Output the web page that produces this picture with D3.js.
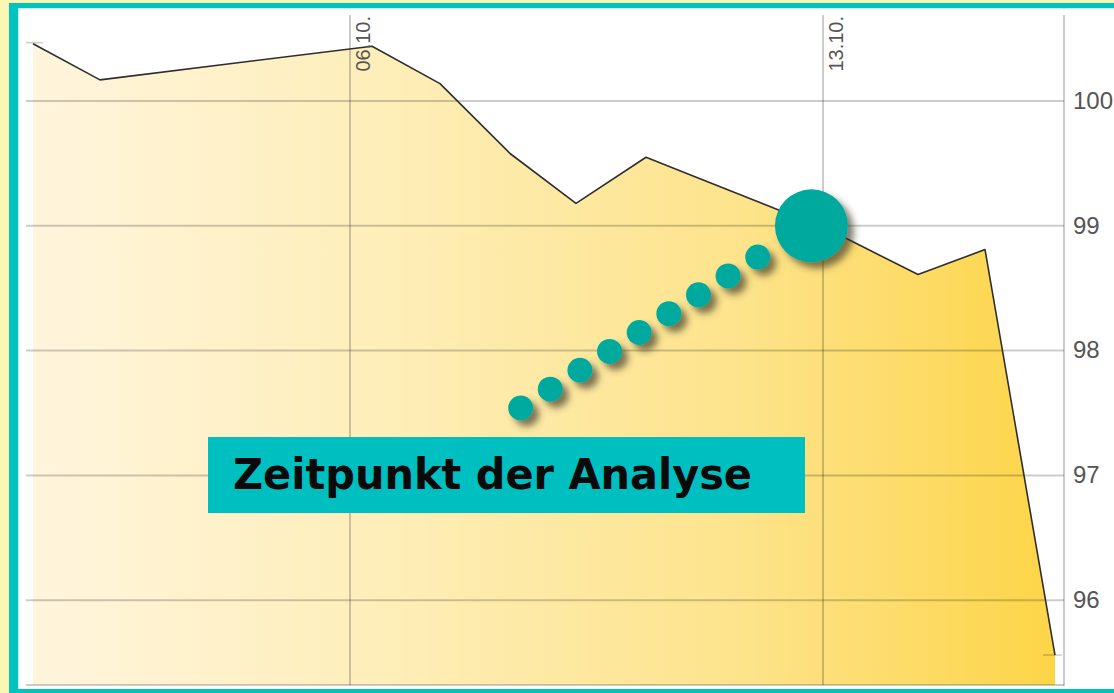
<!DOCTYPE html>
<html><head><meta charset="utf-8">
<script src="https://cdn.jsdelivr.net/npm/d3@7/dist/d3.min.js"></script>
<style>
html,body{margin:0;padding:0;background:#fff;}
svg{display:block;}
</style></head>
<body>
<script>
// ---- data ----
const dates = ["2014-10-01 07:25","2014-10-02 07:12","2014-10-06 07:49","2014-10-07 07:58","2014-10-08 08:50","2014-10-09 08:16","2014-10-10 09:08","2014-10-11 08:34","2014-10-12 08:01","2014-10-13 08:10","2014-10-14 09:45","2014-10-15 09:33","2014-10-16 10:24"];
const values = [100.46,100.17,100.44,100.14,99.58,99.18,99.55,99.34,99.13,98.90,98.61,98.81,95.56];
const yTicks = [96,97,98,99,100];
const xTickDates = ["2014-10-06 00:00","2014-10-13 00:00"];
const xTickLabels = ["06.10.","13.10."];
const domainX = ["2014-10-01 04:55","2014-10-16 13:36"];
const domainY = [95.32,100.69];
const annotationLabel = "Zeitpunkt der Analyse";
const markerPoint = {date:"2014-10-12 19:54", value:99.0};
const dotsStart = {date:"2014-10-08 12:37", value:97.54};
const dotsEnd = {date:"2014-10-12 00:49", value:98.75};
const dotCount = 9;

const W=1114,H=693;
const parse=d3.timeParse("%Y-%m-%d %H:%M");
const data=dates.map((d,i)=>({t:parse(d),v:values[i]}));

const svg=d3.select("body").append("svg").attr("width",W).attr("height",H);
const defs=svg.append("defs");
const grad=defs.append("linearGradient").attr("id","fillGrad").attr("x1","0").attr("x2","1").attr("y1","0").attr("y2","0");
grad.append("stop").attr("offset","0").attr("stop-color","#fff5dd");
grad.append("stop").attr("offset","0.35").attr("stop-color","#feeeb8");
grad.append("stop").attr("offset","0.7").attr("stop-color","#fde38a");
grad.append("stop").attr("offset","1").attr("stop-color","#fdd548");
const sh=defs.append("filter").attr("id","shadow").attr("x","-50%").attr("y","-50%").attr("width","200%").attr("height","200%");
sh.append("feDropShadow").attr("dx",6).attr("dy",6).attr("stdDeviation",3.5).attr("flood-color","#3a3520").attr("flood-opacity",0.65);

// frame
svg.append("rect").attr("x",0).attr("y",0).attr("width",W).attr("height",H).attr("fill","#fff");
svg.append("rect").attr("x",0).attr("y",0).attr("width",W).attr("height",3).attr("fill","#faf7b2");
svg.append("rect").attr("x",0).attr("y",0).attr("width",9).attr("height",H).attr("fill","#faf7b2");
svg.append("rect").attr("x",9).attr("y",3).attr("width",W-9).attr("height",5).attr("fill","#00c3c0");
svg.append("rect").attr("x",9).attr("y",3).attr("width",9).attr("height",H-3).attr("fill","#00c3c0");
svg.append("rect").attr("x",9).attr("y",689).attr("width",W-9).attr("height",4).attr("fill","#00c3c0");
svg.append("rect").attr("x",18).attr("y",8).attr("width",1).attr("height",681).attr("fill","#bff0ef");
svg.append("rect").attr("x",18).attr("y",8).attr("width",W-18).attr("height",1).attr("fill","#bff0ef");

const x=d3.scaleTime().domain(domainX.map(parse)).range([26,1064]);
const y=d3.scaleLinear().domain(domainY).range([685,15]);

// area
const area=d3.area().x(d=>x(d.t)).y0(y(domainY[0])).y1(d=>y(d.v));
svg.append("path").datum(data).attr("d",area).attr("fill","url(#fillGrad)");

// grid
const g=svg.append("g");
g.selectAll(".hg").data(yTicks).join("line")
 .attr("x1",26).attr("x2",1064).attr("y1",d=>y(d)).attr("y2",d=>y(d))
 .attr("stroke","#000").attr("stroke-opacity",0.2).attr("stroke-width",2);
g.selectAll(".vg").data(xTickDates).join("line")
 .attr("x1",d=>x(parse(d))).attr("x2",d=>x(parse(d))).attr("y1",15).attr("y2",685)
 .attr("stroke","#000").attr("stroke-opacity",0.2).attr("stroke-width",2);
g.append("line").attr("x1",26).attr("x2",1064).attr("y1",685).attr("y2",685).attr("stroke","#000").attr("stroke-opacity",0.2).attr("stroke-width",2);
g.append("line").attr("x1",1064).attr("x2",1064).attr("y1",15).attr("y2",686).attr("stroke","#000").attr("stroke-opacity",0.2).attr("stroke-width",2);

// start/end value ticks
const first=data[0], last=data[data.length-1];
svg.append("line").attr("x1",26).attr("x2",x(first.t)+10).attr("y1",y(first.v)-1).attr("y2",y(first.v)-1).attr("stroke","#000").attr("stroke-opacity",0.2).attr("stroke-width",1.5);
svg.append("line").attr("x1",x(last.t)-12).attr("x2",1062).attr("y1",y(last.v)).attr("y2",y(last.v)).attr("stroke","#000").attr("stroke-opacity",0.2).attr("stroke-width",1.5);

// line
const line=d3.line().x(d=>x(d.t)).y(d=>y(d.v));
svg.append("path").datum(data).attr("d",line).attr("fill","none").attr("stroke","#2e2e2e").attr("stroke-width",1.6).attr("stroke-linejoin","round");

// y axis labels
const yAxis=d3.axisRight(y).tickValues(yTicks).tickSize(0).tickPadding(9).tickFormat(d3.format("d"));
const ya=svg.append("g").attr("transform","translate(1064,0)").call(yAxis);
ya.select(".domain").remove();
ya.selectAll("text").attr("font-family","Liberation Sans, Arial, sans-serif").attr("font-size",24).attr("fill","#555").attr("dy","0.3em");

// x labels (rotated)
svg.selectAll(".xl").data(xTickDates).join("text")
 .attr("transform",d=>`translate(${x(parse(d))+20},16) rotate(-90)`)
 .attr("text-anchor","end")
 .attr("font-family","Liberation Sans, Arial, sans-serif").attr("font-size",20).attr("fill","#555")
 .text((d,i)=>xTickLabels[i]);

// annotation dots
const p0=[x(parse(dotsStart.date)),y(dotsStart.value)], p1=[x(parse(dotsEnd.date)),y(dotsEnd.value)];
const dots=d3.range(dotCount).map(i=>[p0[0]+(p1[0]-p0[0])*i/(dotCount-1), p0[1]+(p1[1]-p0[1])*i/(dotCount-1)]);
svg.append("g").attr("filter","url(#shadow)").selectAll("circle").data(dots).join("circle")
 .attr("cx",d=>d[0]).attr("cy",d=>d[1]).attr("r",12.5).attr("fill","#00a99d");
svg.append("circle").attr("cx",x(parse(markerPoint.date))).attr("cy",y(markerPoint.value)).attr("r",36.5)
 .attr("fill","#00a99d").attr("filter","url(#shadow)");

// label box
svg.append("rect").attr("x",208).attr("y",437).attr("width",597).attr("height",76).attr("fill","#00bfc0");
svg.append("text").attr("x",233).attr("y",489).attr("font-family","DejaVu Sans, sans-serif").attr("font-weight","bold")
 .attr("font-size",42).attr("fill","#0a0a0a").attr("textLength",519).attr("lengthAdjust","spacingAndGlyphs").text(annotationLabel);
</script>
</body></html>
